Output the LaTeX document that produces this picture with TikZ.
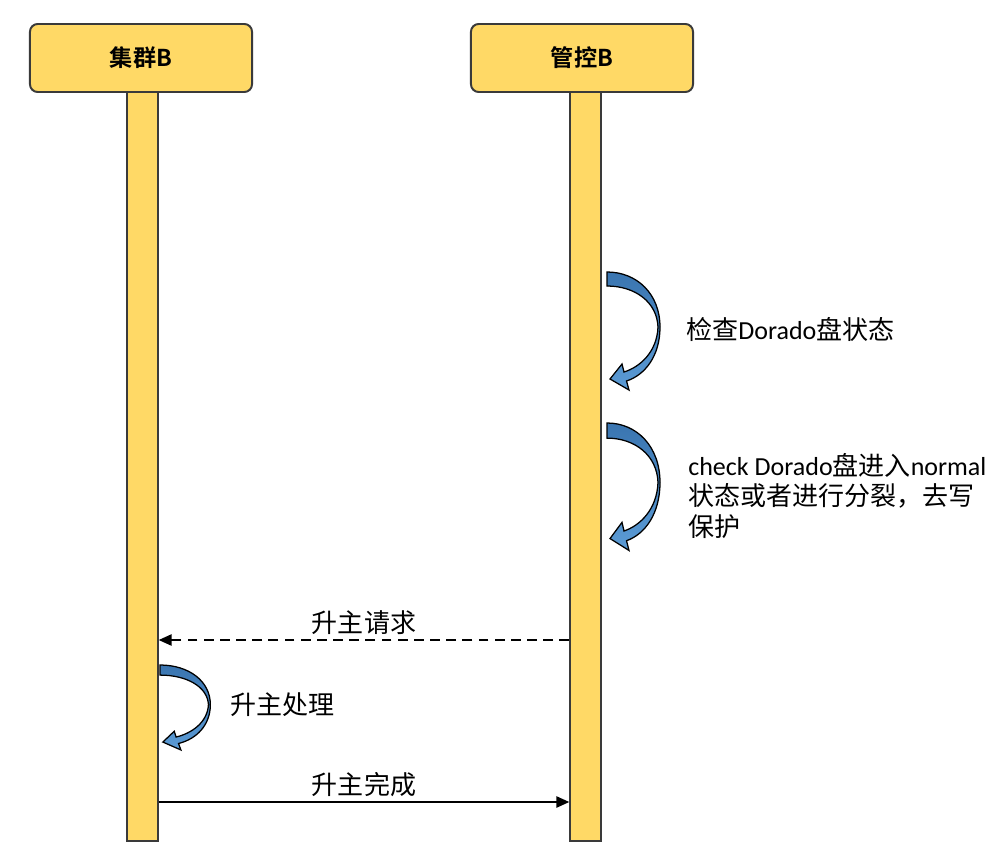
\documentclass[tikz,border=0pt]{standalone}
\usepackage{fontspec}
\setmainfont{Noto Sans CJK SC}[BoldFont={Noto Sans CJK SC Bold}]
\newfontfamily\lat{Carlito}
\usetikzlibrary{arrows.meta,positioning}
\definecolor{laneyellow}{HTML}{FFD966}
\definecolor{edgegray}{HTML}{3A3A3A}
\definecolor{turnblue}{HTML}{5B9BD5}
\definecolor{turndark}{HTML}{3A75B0}

\begin{document}
\begin{tikzpicture}[
  x=0.025cm, y=-0.025cm,
  font=\fontsize{18.5}{22}\selectfont,
  actor/.style={rounded corners=5.5pt, draw=edgegray, line width=1.4pt, fill=laneyellow,
    minimum width=5.55cm, minimum height=1.7cm, font=\fontsize{16.5}{19}\selectfont\bfseries},
  lifeline/.style={draw=edgegray, line width=1pt, fill=laneyellow, anchor=north,
    minimum width=0.775cm, minimum height=18.7cm, inner sep=0pt},
  msg/.style={-{Triangle[length=3.2mm, width=2.8mm]}, line width=1.1pt, draw=black},
  note/.style={align=left, anchor=west, inner sep=0pt},
  turn/.style={draw=black, line width=0.9pt, top color=turndark, bottom color=turnblue},
  loopback/.pic={
    \filldraw[turn] (0,0) .. controls (30,0) and (53,22) .. (53,55)
      .. controls (53,84) and (38,103) .. (19.5,109) -- (22,118) -- (3,107) -- (15,92) -- (17,100)
      .. controls (33,95) and (50,80) .. (51,55) .. controls (50,30) and (28,14) .. (0,14) -- cycle;
  }
]
\useasboundingbox (0,0) rectangle (1004,855);

% actors and lifelines
\node[actor] (cluster) at (141,58) {集群B};
\node[actor] (ctrl) at (582,58) {管控B};
\node[lifeline] (clusterLine) at (142.5,92) {};
\node[lifeline] (ctrlLine) at (585.5,92) {};

% self checks on the control side
\pic at (607,272) {loopback};
\node[note] (checkState) at (686,329) {检查{\lat Dorado}盘状态};
\pic[yscale=1.08] at (607,423) {loopback};
\node[note] (checkNormal) at (688,496) {{\lat check Dorado}盘进入{\lat normal}\\状态或者进行分裂，去写\\保护};

% promotion
\coordinate (reqFrom) at (ctrlLine.west |- 0,640);
\coordinate (reqTo) at (clusterLine.east |- 0,640);
\draw[msg, dash pattern=on 7pt off 4.5pt] (reqFrom) -- node[above] (reqLabel) {升主请求} (reqTo);

\pic[xscale=0.95, yscale=0.72] at (160,665) {loopback};
\node[note] (promote) at (230,705) {升主处理};

\coordinate (doneFrom) at (clusterLine.east |- 0,802);
\coordinate (doneTo) at (ctrlLine.west |- 0,802);
\draw[msg] (doneFrom) -- node[above] (doneLabel) {升主完成} (doneTo);
\end{tikzpicture}
\end{document}
